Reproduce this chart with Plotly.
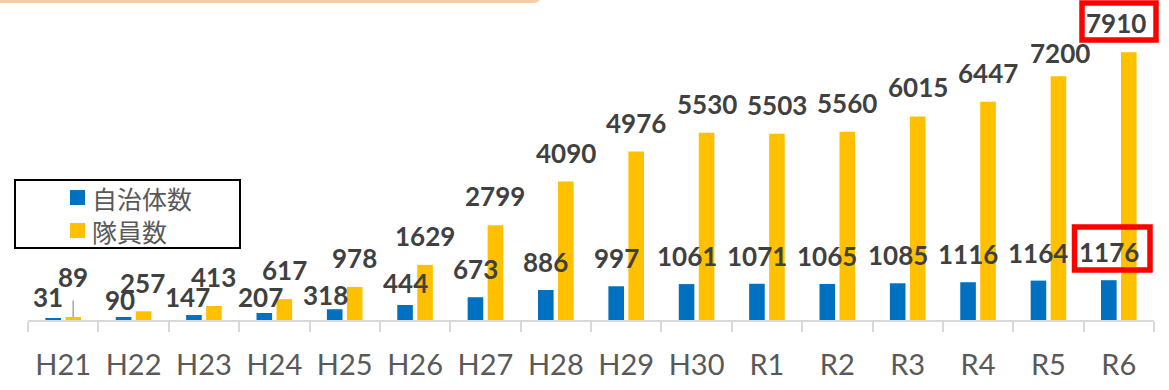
import plotly.graph_objects as go

# ---- data ----
years = ["H21", "H22", "H23", "H24", "H25", "H26", "H27", "H28",
         "H29", "H30", "R1", "R2", "R3", "R4", "R5", "R6"]
municipalities = [31, 90, 147, 207, 318, 444, 673, 886,
                  997, 1061, 1071, 1065, 1085, 1116, 1164, 1176]
members = [89, 257, 413, 617, 978, 1629, 2799, 4090,
           4976, 5530, 5503, 5560, 6015, 6447, 7200, 7910]
series_names = ["自治体数", "隊員数"]

# ---- styling ----
BLUE = "#0070C0"
YELLOW = "#FFC000"
LABEL_COLOR = "#404040"
TICK_COLOR = "#595959"
AXIS_COLOR = "#D9D9D9"
W, H = 1169, 390
L, R, T, B = 28, 15, 0, 70
PW, PH = W - L - R, H - T - B
Y_MAX = 9456

LABEL_FONT = dict(family="Lato, 'Open Sans', sans-serif", size=26,
                  color=LABEL_COLOR, weight="bold")

# label placement: (x offset, height above bar top) in pixels
blue_label_pos = {"H21": (-5, 22), "H22": (-4, 17), "H23": (-6, 18),
                  "H24": (-4, 16), "H25": (-9, 14), "H26": (0, 22)}
yellow_label_pos = {"H22": (-1, 28), "R5": (2, 23), "R6": (-13, 29)}
BLUE_DEFAULT = (0, 28)
YELLOW_DEFAULT = (0, 29)
BAR_OFFSET = 10


def px_x(px):
    return (px - L) / PW


def px_y(py):
    return 1 - (py - T) / PH


fig = go.Figure()
fig.add_bar(x=years, y=municipalities, name=series_names[0],
            marker=dict(color=BLUE, line=dict(width=0)), showlegend=False)
fig.add_bar(x=years, y=members, name=series_names[1],
            marker=dict(color=YELLOW, line=dict(width=0)), showlegend=False)

# value labels
for cat, v in zip(years, municipalities):
    dx, dy = blue_label_pos.get(cat, BLUE_DEFAULT)
    fig.add_annotation(x=cat, y=v, xref="x", yref="y", text=str(v),
                       showarrow=False, xanchor="center", yanchor="middle",
                       xshift=-BAR_OFFSET + dx, yshift=dy, font=LABEL_FONT)

for i, (cat, v) in enumerate(zip(years, members)):
    dx, dy = yellow_label_pos.get(cat, YELLOW_DEFAULT)
    if i == 0:
        # small first value: label lifted higher with a leader line
        fig.add_annotation(x=cat, y=v, xref="x", yref="y", text=str(v),
                           showarrow=True, arrowhead=0, arrowwidth=1.5,
                           arrowcolor="#A6A6A6", ax=0, ay=-40,
                           startstandoff=6, xshift=BAR_OFFSET,
                           font=LABEL_FONT)
        continue
    fig.add_annotation(x=cat, y=v, xref="x", yref="y", text=str(v),
                       showarrow=False, xanchor="center", yanchor="middle",
                       xshift=BAR_OFFSET + dx, yshift=dy, font=LABEL_FONT)

shapes = []

# orange banner edge at the top
shapes.append(dict(type="path", xref="paper", yref="paper",
                   path=(f"M {px_x(-20)},{px_y(-30)} L {px_x(540)},{px_y(-30)} "
                         f"L {px_x(540)},{px_y(-2)} Q {px_x(540)},{px_y(3)} {px_x(532)},{px_y(3)} "
                         f"L {px_x(-20)},{px_y(3)} Z"),
                   fillcolor="#F9CBA3", line=dict(width=0), layer="above"))

# highlight boxes around the latest values
for x0, y0, x1, y1 in [(1082, 3, 1156, 40), (1074.5, 227, 1150, 270)]:
    shapes.append(dict(type="rect", xref="paper", yref="paper",
                       x0=px_x(x0), x1=px_x(x1), y0=px_y(y0), y1=px_y(y1),
                       line=dict(color="#FF0000", width=5.5), fillcolor="rgba(0,0,0,0)",
                       layer="above"))

# legend frame and swatches
shapes.append(dict(type="rect", xref="paper", yref="paper",
                   x0=px_x(15), x1=px_x(240), y0=px_y(180), y1=px_y(248),
                   line=dict(color="#000000", width=2), fillcolor="white",
                   layer="above"))
for color, yc, name in [(BLUE, 197.5, series_names[0]), (YELLOW, 230.5, series_names[1])]:
    shapes.append(dict(type="rect", xref="paper", yref="paper",
                       x0=px_x(70), x1=px_x(85), y0=px_y(yc - 7.5), y1=px_y(yc + 7.5),
                       line=dict(width=0), fillcolor=color, layer="above"))
    fig.add_annotation(x=px_x(90), y=px_y(yc), xref="paper", yref="paper",
                       text=name, showarrow=False, xanchor="left", yanchor="middle",
                       font=dict(family="'Noto Sans CJK JP', sans-serif", size=25,
                                 color=TICK_COLOR))

fig.update_layout(
    width=W, height=H,
    margin=dict(l=L, r=R, t=T, b=B),
    paper_bgcolor="white", plot_bgcolor="white",
    barmode="group", bargap=0.4316, bargroupgap=0.22,
    showlegend=False,
    shapes=shapes,
    xaxis=dict(type="category", range=[-0.5, 15.5], showgrid=False,
               showline=True, linecolor=AXIS_COLOR, linewidth=2,
               ticks="outside", tickson="boundaries", ticklen=10,
               tickwidth=1.5, tickcolor=AXIS_COLOR,
               tickfont=dict(family="Lato, 'Open Sans', sans-serif", size=29,
                             color=TICK_COLOR),
               ticklabelstandoff=18, fixedrange=True),
    yaxis=dict(range=[0, Y_MAX], visible=False, showgrid=False,
               zeroline=False, fixedrange=True),
)

fig.write_html("out.html", config={"displayModeBar": False})
